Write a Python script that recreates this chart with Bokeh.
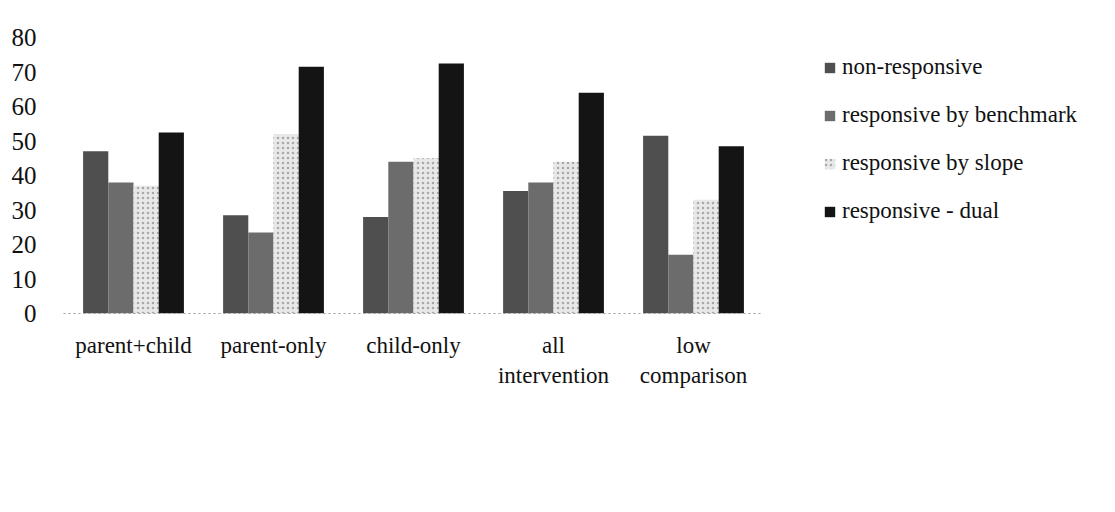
from bokeh.plotting import figure
from bokeh.models import ColumnDataSource, Range1d, FactorRange, Legend, LegendItem
from bokeh.transform import dodge
from bokeh.embed import file_html
from bokeh.resources import INLINE

categories = ["parent+child", "parent-only", "child-only", "all\nintervention", "low\ncomparison"]
non_responsive = [47, 28.5, 28, 35.5, 51.5]
responsive_benchmark = [38, 23.5, 44, 38, 17]
responsive_slope = [37, 52, 45, 44, 33]
responsive_dual = [52.5, 71.5, 72.5, 64, 48.5]
series_names = ["non-responsive", "responsive by benchmark", "responsive by slope", "responsive - dual"]
y_ticks = [0, 10, 20, 30, 40, 50, 60, 70, 80]

src = ColumnDataSource(dict(cat=categories, nr=non_responsive, rb=responsive_benchmark,
                            rs=responsive_slope, rd=responsive_dual))

FONT = "Liberation Serif"
p = figure(x_range=FactorRange(*categories), y_range=Range1d(0, 80),
           frame_width=700, frame_height=276, output_backend="svg", toolbar_location=None,
           min_border_left=63, min_border_top=37, min_border_bottom=107, min_border_right=0)
p.outline_line_color = None
p.grid.grid_line_color = None
p.background_fill_color = "white"

styles = [
    dict(col="nr", off=-0.27, fill="#4f4f4f", hatch=None),
    dict(col="rb", off=-0.09, fill="#6c6c6c", hatch=None),
    dict(col="rs", off=0.09, fill="#e8e8e8", hatch="dot"),
    dict(col="rd", off=0.27, fill="#141414", hatch=None),
]
renderers = []
for s in styles:
    kw = dict(x=dodge("cat", s["off"], range=p.x_range), top=s["col"], width=0.18, source=src,
              fill_color=s["fill"], line_color=None)
    if s["hatch"]:
        kw.update(hatch_pattern=s["hatch"], hatch_color="#a8a8a8", hatch_scale=5, hatch_weight=1)
    renderers.append(p.vbar(**kw))

legend = Legend(items=[LegendItem(label=n, renderers=[r]) for n, r in zip(series_names, renderers)],
                location=(60, 89), orientation="vertical")
legend.border_line_color = None
legend.background_fill_alpha = 0
legend.padding = 0
legend.margin = 0
legend.spacing = 22
legend.glyph_width = 13
legend.glyph_height = 13
legend.label_height = 26
legend.label_standoff = 6
legend.label_text_font = FONT
legend.label_text_font_size = "23px"
legend.label_text_color = "#111111"
p.add_layout(legend, "right")

p.yaxis.ticker = y_ticks
p.yaxis.axis_line_color = None
p.yaxis.major_tick_line_color = None
p.yaxis.minor_tick_line_color = None
p.yaxis.major_label_standoff = 21
p.yaxis.major_label_text_font = FONT
p.yaxis.major_label_text_font_size = "25px"
p.yaxis.major_label_text_color = "#111111"

p.xaxis.axis_line_color = "#9a9a9a"
p.xaxis.axis_line_dash = "2 3"
p.xaxis.major_tick_line_color = None
p.xaxis.major_tick_out = 0
p.xaxis.major_label_standoff = 19
p.xaxis.major_label_text_font = FONT
p.xaxis.major_label_text_font_size = "23px"
p.xaxis.major_label_text_color = "#111111"
p.xaxis.major_label_orientation = "horizontal"

open("out.html", "w").write(file_html(p, INLINE))
